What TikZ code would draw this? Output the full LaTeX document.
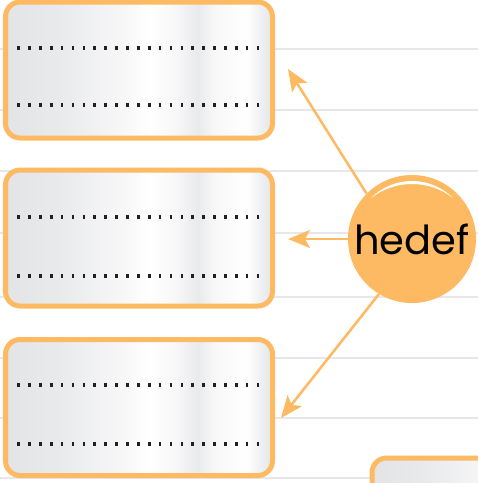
\documentclass[tikz,border=0pt]{standalone}
\usepackage{fontspec}
\newfontfamily\hedeffont{Poppins}
\usepackage{xcolor}
\usepackage{tikz}
\usetikzlibrary{arrows.meta,calc}
\definecolor{turuncu}{RGB}{253,186,99}
\definecolor{cizgigri}{RGB}{230,231,232}
\definecolor{nokta}{RGB}{35,31,32}
\definecolor{metalA}{RGB}{227,228,230}
\definecolor{metalB}{RGB}{233,234,236}
\definecolor{metalC}{RGB}{247,247,248}
\pgfdeclarehorizontalshading{metal}{100bp}{color(0bp)=(metalA); color(25bp)=(metalA); color(35bp)=(metalB); color(47bp)=(metalC); color(52bp)=(white); color(57bp)=(metalC); color(61bp)=(metalB); color(64bp)=(metalC); color(70bp)=(white); color(75bp)=(metalA); color(100bp)=(metalA)}

\begin{document}
\begin{tikzpicture}[x=.75pt,y=-.75pt,
  kutu/.style={draw=turuncu,line width=3.75pt,rounded corners=11pt,shade,shading=metal,minimum width=200.25pt,minimum height=102pt,inner sep=0pt},
  noktali/.style={nokta,line width=2.6pt,dash pattern=on 2pt off 6.16pt},
  ok/.style={turuncu,line width=1.9pt,-{Stealth[length=16.5pt,width=13.5pt,inset=3.75pt]}}]
\useasboundingbox (0,0) rectangle (478,483);
\foreach \y in {49,110,171,233,297,358,418,478}{\draw[cizgigri,line width=1.5pt] (0,\y)--(478,\y);}
% kutular
\node[kutu] (k1) at (139,70){};
\node[kutu] (k2) at (139,238){};
\node[kutu] (k3) at (139,407.5){};
\node[kutu,anchor=north west] (k4) at (369.5,455.5){};
\foreach \k/\a/\b in {k1/-22/35,k2/-21/38,k3/-22.5/36.5}{
  \draw[noktali] ($(\k)+(-121.7,\a)$)--++(242,0);
  \draw[noktali] ($(\k)+(-121.7,\b)$)--++(242,0);}
% hedef
\node[circle,fill=turuncu,minimum size=96pt,inner sep=0pt] (hedef) at (412,239){\fontsize{30}{30}\hedeffont hedef};
\fill[white] ($(hedef.center)+(-135:58)$) arc[start angle=-135,end angle=-45,radius=58] arc[start angle=-52.3,end angle=-127.7,radius=67];
\coordinate (u1) at (288,69);
\coordinate (u2) at (288,239);
\coordinate (u3) at (281,418);
\draw[ok] (hedef.135)--(u1);
\draw[ok] (hedef.180)--(u2);
\draw[ok] (hedef.239)--(u3);
\end{tikzpicture}
\end{document}
